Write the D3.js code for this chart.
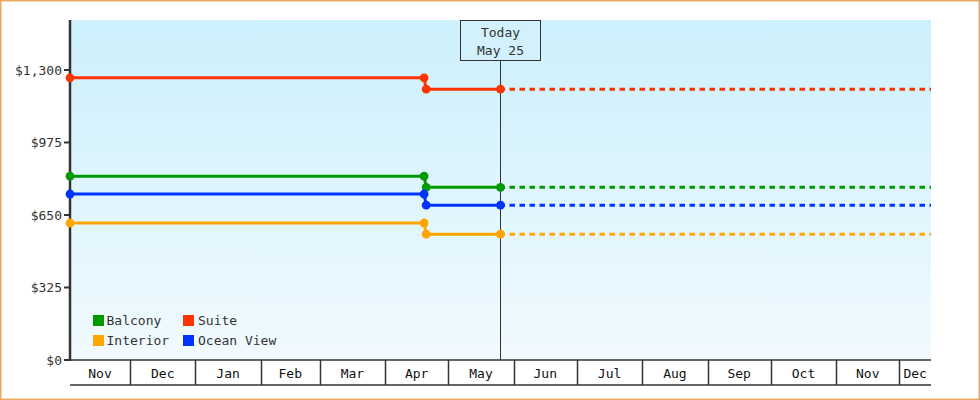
<!DOCTYPE html>
<html>
<head>
<meta charset="utf-8">
<script src="https://cdn.jsdelivr.net/npm/d3@7"></script>
<style>
  html, body { margin: 0; padding: 0; background: #fff; }
  svg { display: block; }
  text { font-family: "DejaVu Sans Mono", monospace; font-size: 13px; }
</style>
</head>
<body>
<svg id="chart" width="980" height="400"></svg>
<script>
// ---- data ----
const categories = ["Balcony", "Suite", "Interior", "Ocean View"];
const colors = ["#009a00", "#ff3300", "#ffa500", "#0033ff"];
const priceDates = ["2022-11-02T12:00", "2023-04-19T12:00", "2023-04-20T12:00", "2023-05-25T18:00"];
const balcony   = [824, 824, 774, 774];
const suite     = [1265, 1265, 1214, 1214];
const interior  = [614, 614, 564, 564];
const oceanView = [744, 744, 694, 694];
const seriesValues = [balcony, suite, interior, oceanView];
const todayDate = "2023-05-25T18:00";
const todayLabel = ["Today", "May 25"];
const domainStart = "2022-11-02T12:00";
const domainEnd = "2023-12-16T00:00";
const yTicks = [0, 325, 650, 975, 1300];
const yMax = 1524;

(function () {
// ---- layout ----
const W = 980, H = 400;
const pL = 70, pR = 931, pT = 20, pB = 360, axisBand = 385;
const svg = d3.select("#chart");
const parse = s => new Date(s);

const x = d3.scaleTime().domain([parse(domainStart), parse(domainEnd)]).range([pL, pR]);
const y = d3.scaleLinear().domain([0, yMax]).range([pB, pT]);

// border
svg.append("rect").attr("x", 0.75).attr("y", 0.75).attr("width", W - 1.5).attr("height", H - 1.5)
  .attr("fill", "#fff").attr("stroke", "#eaa862").attr("stroke-width", 1.5);

// gradient bg
const defs = svg.append("defs");
const grad = defs.append("linearGradient").attr("id", "bg").attr("x1", 0).attr("y1", 0).attr("x2", 0).attr("y2", 1);
grad.append("stop").attr("offset", "0%").attr("stop-color", "#ccf0fc");
grad.append("stop").attr("offset", "100%").attr("stop-color", "#f1faff");
svg.append("rect").attr("x", pL).attr("y", pT).attr("width", pR - pL).attr("height", pB - pT)
  .attr("fill", "url(#bg)");

// x axis band
const xg = svg.append("g");
xg.append("line").attr("x1", pL).attr("x2", pR).attr("y1", pB).attr("y2", pB)
  .attr("stroke", "#333").attr("stroke-width", 1.5);
xg.append("line").attr("x1", pL).attr("x2", pR).attr("y1", axisBand).attr("y2", axisBand)
  .attr("stroke", "#333").attr("stroke-width", 1.5);
const d0 = x.domain()[0], d1 = x.domain()[1];
const boundaries = d3.timeMonth.range(d3.timeMonth.ceil(d0), d1);
xg.selectAll("line.div").data(boundaries).join("line").attr("class", "div")
  .attr("x1", d => Math.round(x(d)) + 0.5).attr("x2", d => Math.round(x(d)) + 0.5)
  .attr("y1", pB).attr("y2", axisBand).attr("stroke", "#333").attr("stroke-width", 1.5);
const monthStarts = d3.timeMonth.range(d3.timeMonth.floor(d0), d1);
const fmt = d3.timeFormat("%b");
xg.selectAll("text").data(monthStarts).join("text")
  .attr("x", d => {
    const a = Math.max(x(d), pL);
    const b = Math.min(x(d3.timeMonth.offset(d, 1)), pR);
    return (a + b) / 2;
  })
  .attr("y", 377.5).attr("text-anchor", "middle").attr("fill", "#111").text(d => fmt(d));

// y axis
const yg = svg.append("g");
yg.append("line").attr("x1", pL).attr("x2", pL).attr("y1", pT).attr("y2", pB + 1)
  .attr("stroke", "#333").attr("stroke-width", 2.5);
yg.selectAll("line.t").data(yTicks).join("line").attr("class", "t")
  .attr("x1", pL - 6).attr("x2", pL).attr("y1", d => y(d)).attr("y2", d => y(d))
  .attr("stroke", "#333").attr("stroke-width", 2);
const yfmt = d3.format("$,");
yg.selectAll("text").data(yTicks).join("text")
  .attr("x", pL - 8).attr("y", d => y(d)).attr("dy", "0.35em")
  .attr("text-anchor", "end").attr("fill", "#333").text(d => yfmt(d));

// today line + label
const tx = x(parse(todayDate));
svg.append("line").attr("x1", tx).attr("x2", tx).attr("y1", 61).attr("y2", pB)
  .attr("stroke", "#333").attr("stroke-width", 1);
svg.append("rect").attr("x", tx - 40).attr("y", pT + 0.5).attr("width", 80).attr("height", 40)
  .attr("fill", "#d2f1fc").attr("stroke", "#333").attr("stroke-width", 1);
svg.selectAll("text.today").data(todayLabel).join("text").attr("class", "today")
  .attr("x", tx).attr("y", (d, i) => 36.5 + i * 18).attr("text-anchor", "middle")
  .attr("fill", "#333").text(d => d);

// series
const line = d3.line().x(d => x(d.date)).y(d => y(d.value));
const order = [1, 0, 3, 2];
order.forEach(si => {
  const pts = priceDates.map((dt, i) => ({ date: parse(dt), value: seriesValues[si][i] }));
  const g = svg.append("g");
  const last = pts[pts.length - 1];
  g.append("path").datum([last, { date: d1, value: last.value }]).attr("d", line)
    .attr("fill", "none").attr("stroke", colors[si]).attr("stroke-width", 3)
    .attr("stroke-dasharray", "5.5,4.5").attr("stroke-dashoffset", 1);
  g.append("path").datum(pts).attr("d", line)
    .attr("fill", "none").attr("stroke", colors[si]).attr("stroke-width", 3);
  g.selectAll("circle").data(pts).join("circle")
    .attr("cx", d => x(d.date)).attr("cy", d => y(d.value)).attr("r", 4.4)
    .attr("fill", colors[si]);
});

// legend
const lg = svg.append("g");
const legendX = [93, 183], legendTextX = [106.5, 198];
categories.forEach((c, i) => {
  const col = i % 2, row = Math.floor(i / 2);
  const ly = 315 + row * 20;
  lg.append("rect").attr("x", legendX[col]).attr("y", ly).attr("width", 11).attr("height", 11).attr("fill", colors[i]);
  lg.append("text").attr("x", legendTextX[col]).attr("y", ly + 10).attr("fill", "#333").text(c);
});
})();
</script>
</body>
</html>
